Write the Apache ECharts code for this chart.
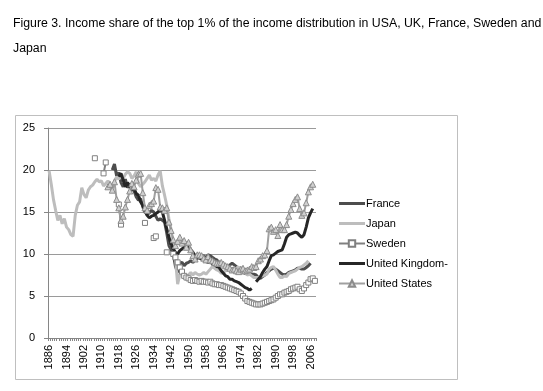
<!DOCTYPE html>
<html><head><meta charset="utf-8">
<script src="https://cdn.jsdelivr.net/npm/echarts@6/dist/echarts.min.js"></script>
<style>html,body{margin:0;padding:0;background:#fff}#c{width:543px;height:391px}</style>
</head><body><div id="c"></div>
<script>
const firstYear = 1886, lastYear = 2008;
const titleLine1 = 'Figure 3. Income share of the top 1% of the income distribution in USA, UK, France, Sweden and';
const titleLine2 = 'Japan';
const seriesNames = ['France', 'Japan', 'Sweden', 'United Kingdom-', 'United States'];

const japanStart = 1886;
const japan = [
  19.9, 18.3, 16.5, 15.2, 14.0, 14.6, 13.6, 14.2, 13.2, 12.9,
  12.3, 12.1, 14.6, 15.8, 16.2, 17.9, 17.1, 16.7, 17.6, 18.0,
  18.2, 18.6, 18.9, 18.6, 18.7, 18.1, 18.4, 18.7, 18.3, 18.0,
  18.6, 19.2, 18.9, 19.3, 19.0, 19.5, 19.8, 19.6, 19.0, 19.3,
  19.8, 18.4, 18.0, 18.3, 18.6, 19.0, 19.4, 18.8, 19.0, 18.7,
  19.4, 19.9, 18.1, 17.0, 15.8, 14.2, 12.9, 11.0, 9.4, 6.4,
  7.6, 7.9, 7.1, 7.3, 7.5, 7.8, 7.5, 7.8, 7.6, 7.5,
  7.6, 7.8, 7.6, 7.9, 8.2, 8.5, 8.3, 8.1, 8.0, 7.7,
  7.8, 8.0, 8.1, 8.2, 8.3, 8.0, 8.3, 8.5, 7.7, 7.8,
  7.8, 7.5, 7.6, 7.4, 7.2, 7.2, 7.2, 7.3, 7.4, 7.5,
  7.6, 8.2, 8.4, 8.5, 8.1, 7.6, 7.2, 7.2, 7.4, 7.3,
  7.7, 7.8, 7.9, 8.0, 8.2, 8.4, 8.5, 8.7, 8.9, 9.2
];

const franceStart = 1915;
const france = [
  20.0, 20.7, 19.3, 19.7, 18.5, 18.0, 18.9, 17.9, 18.3, 18.0,
  17.5, 16.8, 16.4, 16.6, 15.6, 15.0, 14.7, 14.9, 15.2, 15.0,
  14.5, 14.0, 14.2, 14.0, 13.8, 12.5, 11.0, 10.5, 10.0, 8.5,
  7.8, 8.9, 9.0, 8.6, 8.9, 9.0, 9.2, 9.0, 9.3, 9.5,
  9.7, 9.6, 9.8, 9.5, 9.9, 9.8, 9.6, 9.4, 9.3, 9.0,
  8.9, 8.8, 8.6, 8.4, 8.7, 8.9, 8.7, 8.5, 8.3, 8.0,
  7.8, 7.7, 7.6, 7.7, 7.6, 7.6, 7.5, 7.2, 7.1, 7.3,
  7.5, 7.8, 8.0, 8.2, 8.3, 8.2, 8.0, 7.8, 7.6, 7.5,
  7.6, 7.8, 7.9, 8.0, 8.1, 8.3, 8.3, 8.2, 8.2, 8.4,
  8.6, 8.9
];

const swedenStart = 1907;
const sweden = [
  21.4, null, null, null, 19.6, 20.9, null, null, null, null,
  null, 15.9, 13.5, null, null, null, null, null, null, null,
  null, null, null, 13.7, null, null, null, 11.9, 12.1, null,
  null, null, null, 10.2, null, null, 10.0, 9.6, 9.0, 8.4,
  7.9, 7.4, 7.2, 7.1, 6.9, 6.8, 6.9, 6.8, 6.7, 6.8,
  6.7, 6.7, 6.6, 6.7, 6.5, 6.4, 6.4, 6.3, 6.3, 6.2,
  6.1, 6.0, 5.9, 5.8, 5.7, 5.6, 5.5, 5.3, 5.0, 4.7,
  4.4, 4.3, 4.2, 4.1, 4.0, 4.0, 4.0, 4.1, 4.2, 4.3,
  4.4, 4.5, 4.6, 4.8, 5.0, 5.2, 5.2, 5.4, 5.5, 5.6,
  5.8, 5.9, 6.0, 6.1, 5.8, 5.6, 5.9, 6.3, 6.6, 7.0,
  7.1, 6.8
];

const ukStart = 1918;
const uk = [
  19.2, 19.6, 18.8, 18.0, 18.5, 18.1, 17.6, 17.8, 17.2, 17.0,
  16.2, 15.8, 15.2, 14.6, 14.3, 14.5, 14.6, 14.8, 15.0, 15.3,
  15.0, 14.0, 13.0, 12.0, 11.2, 10.6, 10.2, 10.0, 10.4, 10.6,
  10.8, 11.4, 10.9, 10.5, 10.2, 9.8, 9.6, 9.5, 9.4, 9.3,
  9.1, 9.0, 9.1, 8.8, 8.7, 8.5, 8.4, 8.0, 7.7, 7.4,
  7.3, 7.0, 7.0, 6.8, 6.7, 6.6, 6.4, 6.2, 6.0, 5.9,
  5.7, 5.9, null, 6.7, 7.0, 7.3, 7.8, 8.2, 8.5, 9.2,
  9.8, 9.9, 10.1, 10.3, 10.4, 10.5, 11.2, 12.0, 12.3, 12.4,
  12.5, 12.6, 12.5, 12.2, 12.0, 12.3, 13.2, 14.3, 14.9, 15.4
];

const usStart = 1913;
const us = [
  18.0, 18.3, 17.6, 18.6, 16.5, 15.5, 14.0, 14.5, 15.6, 16.5,
  17.5, 18.4, 18.0, 18.8, 19.5, 19.6, 17.3, 15.5, 15.2, 15.8,
  16.0, 16.3, 17.9, 17.7, 15.6, 15.5, 15.2, 15.5, 13.8, 12.8,
  11.7, 11.0, 11.5, 12.0, 11.3, 11.6, 10.8, 11.4, 10.5, 9.8,
  9.4, 9.9, 9.9, 9.8, 9.5, 9.3, 9.7, 9.3, 9.2, 9.0,
  8.9, 8.9, 9.0, 8.8, 8.6, 8.5, 8.3, 8.1, 8.2, 8.0,
  7.9, 8.2, 8.3, 8.0, 8.1, 8.2, 8.5, 8.4, 8.5, 9.2,
  9.4, 9.8, 9.9, 10.4, 13.0, 13.2, 12.7, 12.9, 12.2, 13.5,
  12.9, 12.9, 13.5, 14.5, 15.3, 16.0, 16.5, 16.8, 15.4, 14.6,
  14.9, 16.1, 17.4, 18.0, 18.3
];

const categories = [];
for (let y = firstYear; y <= lastYear; y++) categories.push(String(y));

function pad(start, vals) {
  const out = new Array(categories.length).fill(null);
  vals.forEach((v, i) => { out[start - firstYear + i] = v; });
  return out;
}

const font = 'Liberation Sans';
const barIcon = 'path://M0 0H26V3H0Z';
const chart = echarts.init(document.getElementById('c'), null, { renderer: 'canvas' });
chart.setOption({
  animation: false,
  backgroundColor: '#fff',
  graphic: [
    { type: 'text', left: 13, top: 18, style: { text: titleLine1, font: '12.3px "Liberation Sans"', fill: '#000' } },
    { type: 'text', left: 13, top: 43, style: { text: titleLine2, font: '12.3px "Liberation Sans"', fill: '#000' } },
    { type: 'rect', shape: { x: 15.5, y: 115.5, width: 442, height: 264 }, style: { fill: 'none', stroke: '#bfbfbf', lineWidth: 1 }, silent: true }
  ],
  grid: { left: 48, right: 227, top: 128, bottom: 53, containLabel: false },
  legend: {
    orient: 'vertical', left: 333, top: 193, itemWidth: 26, itemHeight: 8, itemGap: 9,
    textStyle: { fontFamily: font, fontSize: 11, color: '#000', padding: [0, 0, 0, -4] },
    data: [
      { name: seriesNames[0], icon: barIcon },
      { name: seriesNames[1], icon: barIcon },
      { name: seriesNames[2] },
      { name: seriesNames[3], icon: barIcon },
      { name: seriesNames[4] }
    ]
  },
  xAxis: {
    type: 'category', data: categories, boundaryGap: true,
    axisLine: { lineStyle: { color: '#868686', width: 1 } },
    axisTick: { show: true, interval: 0, length: 3, lineStyle: { color: '#868686' } },
    axisLabel: { interval: 7, rotate: 90, fontFamily: font, fontSize: 11, color: '#000', margin: 7 },
    splitLine: { show: false }
  },
  yAxis: {
    type: 'value', min: 0, max: 25, interval: 5,
    axisLine: { show: true, lineStyle: { color: '#868686', width: 1 } },
    axisTick: { show: true, length: 4, lineStyle: { color: '#868686' } },
    axisLabel: { fontFamily: font, fontSize: 11, color: '#000', margin: 13 },
    splitLine: { show: true, lineStyle: { color: '#9a9a9a', width: 1 } }
  },
  series: [
    { name: seriesNames[0], type: 'line', data: pad(franceStart, france), symbol: 'none', connectNulls: false,
      lineStyle: { color: '#4d4d4d', width: 3 }, itemStyle: { color: '#4d4d4d' } },
    { name: seriesNames[1], type: 'line', data: pad(japanStart, japan), symbol: 'none', connectNulls: false,
      lineStyle: { color: '#bdbdbd', width: 3 }, itemStyle: { color: '#bdbdbd' } },
    { name: seriesNames[2], type: 'line', data: pad(swedenStart, sweden), symbol: 'rect', symbolSize: 5, showSymbol: true, showAllSymbol: true, connectNulls: false,
      lineStyle: { color: '#808080', width: 2 }, itemStyle: { color: '#ffffff', borderColor: '#808080', borderWidth: 1 } },
    { name: seriesNames[3], type: 'line', data: pad(ukStart, uk), symbol: 'none', connectNulls: false,
      lineStyle: { color: '#262626', width: 3 }, itemStyle: { color: '#262626' } },
    { name: seriesNames[4], type: 'line', data: pad(usStart, us), symbol: 'triangle', symbolSize: 6, showSymbol: true, showAllSymbol: true, connectNulls: false,
      lineStyle: { color: '#a0a0a0', width: 2 }, itemStyle: { color: '#d0d0d0', borderColor: '#8c8c8c', borderWidth: 1 } }
  ]
});
</script></body></html>
